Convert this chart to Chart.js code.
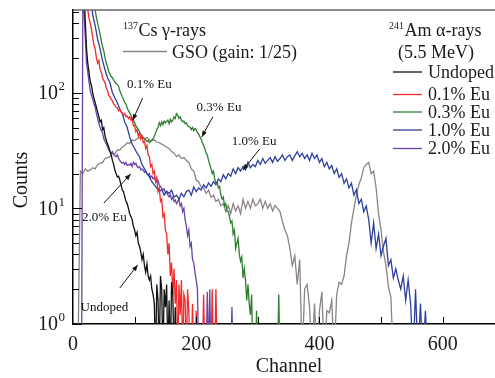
<!DOCTYPE html>
<html>
<head>
<meta charset="utf-8">
<script src="https://cdn.jsdelivr.net/npm/chart.js@4.4.1/dist/chart.umd.min.js"></script>
<style>
  html, body { margin: 0; padding: 0; background: #fff; }
  #wrap { width: 495px; height: 378px; }
</style>
</head>
<body>
<div id="wrap"><canvas id="spectra"></canvas></div>
<script>
// --- fonts / colours ---
const SERIF = "'Liberation Serif', 'Times New Roman', serif";
Chart.defaults.font.family = SERIF;
Chart.defaults.color = '#1a1a1a';

// --- DATA: counts per channel ---
const seriesLabels = ['Undoped', '0.1% Eu', '0.3% Eu', '1.0% Eu', '2.0% Eu'];
const seriesColors = ['#111111', '#f42a2a', '#2f7f2f', '#2e3f9e', '#6a45a8'];
const gsoLabel = 'GSO (gain: 1/25)';
const gsoColor = '#8c8484';

// undoped: channel 18..168, step 2
const undopedStart = 18, undopedStep = 2;
const undopedCounts = [800, 400, 240, 180, 150, 125, 115, 99, 90, 82,
  75, 68, 62, 56, 58, 48, 50, 42, 39, 36,
  34, 31, 29, 26, 24, 21.5, 20, 18.7, 19, 17.6,
  16, 14.4, 14, 12.6, 11.5, 11, 10, 9, 8.5, 8,
  7, 6.5, 5.8, 6.2, 5, 4.7, 4.2, 3.6, 4, 3.2,
  2.8, 3.3, 2.6, 2.4, 2.6, 2, 1.8, 1.5, 0.5, 2.2,
  1.6, 0.5, 2.6, 2, 0.5, 2, 1.4, 2.2, 0.5, 1.6,
  0.5, 2.3, 1.8, 0.5, 1.4, 0.5];

// 0.1% Eu: channel 22..234, step 2
const eu01Start = 22, eu01Step = 2;
const eu01Counts = [800, 520, 440, 400, 356, 300, 260, 240, 200, 180,
  190, 160, 150, 135, 128, 122, 110, 105, 95, 92,
  88, 85, 80, 78, 75, 74, 70, 72, 68, 67,
  64, 66, 62, 63, 60, 62, 58, 60, 52, 52,
  46, 48, 42, 45, 40, 42, 37, 38, 33, 35,
  29, 28, 23, 24, 20, 21, 17, 18.5, 14, 15,
  11.5, 12, 8.5, 9, 6.5, 6, 4, 5, 2.6, 3.4,
  1.8, 3, 1.5, 2.4, 0.5, 2.2, 1.2, 2.4, 0.5, 1.8,
  1.6, 0.5, 2, 1.3, 0.5, 0.5, 1.5, 0.5, 0.5, 1.3,
  0.5, 0.5, 0.5, 0.5, 0.5, 1.8, 0.5, 0.5, 0.5, 0.5,
  0.5, 0.5, 2, 0.5, 0.5, 2, 0.5];

// 0.3% Eu: channel 34..336, step 2
const eu03Start = 34, eu03Step = 2;
const eu03Counts = [800, 520, 450, 400, 360, 320, 280, 250, 230, 200,
  180, 168, 152, 145, 138, 135, 128, 124, 120, 118,
  114, 104, 98, 92, 88, 82, 80, 74, 70, 67,
  64, 60, 58, 55, 52, 50, 48, 46, 44, 42,
  41, 40, 39, 38, 38.5, 37, 38, 39, 40, 42,
  45, 48, 50, 55, 52, 56, 53, 57, 55, 56,
  58, 54, 59, 56, 58, 62, 60, 66, 64, 60,
  62, 58, 56, 57, 54, 55, 52, 51, 50.6, 48,
  50, 47, 49, 48, 45, 44, 41.5, 40, 37, 35,
  33, 30, 29, 26, 24, 22, 20, 21, 18, 16.6,
  17, 15, 15.5, 13, 12, 12.5, 10.5, 11, 9.5, 9.4,
  8.5, 7.5, 7.8, 6, 6.5, 4.5, 5, 5.5, 4, 3.5,
  3.8, 2.5, 3, 2.4, 1.6, 2.2, 1.5, 1.2, 1.8, 0.5,
  0.5, 0.5, 1.3, 0.5, 0.5, 0.5, 0.5, 0.5, 0.5, 0.5,
  0.5, 0.5, 0.5, 0.5, 0.5, 0.5, 0.5, 0.5, 0.5, 0.5,
  1.8, 0.5];

// 1.0% Eu: channel 28..576, step 4
const eu10Start = 28, eu10Step = 4;
const eu10Counts = [800, 470, 380, 290, 240, 190, 158, 135, 122, 100,
  90, 82, 72, 66, 56, 50, 41.5, 36, 33, 30,
  28, 24, 22, 20, 18.7, 17, 16, 15, 14, 14.5,
  13, 14, 13.5, 14.4, 12.5, 13, 12, 13.5, 12.6, 14,
  14.4, 13, 15.3, 14, 15, 14.4, 16, 15, 16.6, 15.5,
  17, 16, 18, 17, 19.5, 18, 20, 19, 22, 20,
  22.5, 21, 23, 21.5, 25, 22.5, 24, 23, 26, 24,
  27, 24.5, 26, 27.5, 25, 28, 25.5, 27, 29, 26,
  28, 29, 26, 28.5, 31, 28, 30, 27, 29, 26,
  30, 27, 29, 25, 27, 23, 25, 22, 23.5, 20,
  22, 18.5, 20, 16.5, 18, 15, 16.5, 13, 14.5, 11,
  12, 9.4, 10.5, 8, 5, 7.5, 4.5, 6, 3.9, 4.7,
  5.5, 3.2, 3.6, 2.5, 3, 2.4, 2, 2.6, 1.6, 2.4,
  1.5, 0.5, 2, 0.5, 1.5, 0.5, 1.3, 0.5];

// 2.0% Eu: channel 14..260, step 2
const eu20Start = 14, eu20Step = 2;
const eu20Counts = [0.5, 800, 500, 300, 180, 150, 125, 105, 95, 88,
  80, 75, 66, 60, 54, 50, 47, 45, 40, 38,
  36, 34, 32, 31, 30, 31, 29, 28.5, 28, 29,
  27, 26, 25, 24.6, 25, 24, 25, 23.5, 24, 23.7,
  24.5, 23, 25, 24, 24.6, 23, 22.5, 23, 21.5, 22,
  21.5, 20.5, 21, 20, 19.5, 20, 18.5, 19, 18, 18.5,
  17.6, 17, 17.5, 16, 15.5, 15, 14.4, 14.8, 13.5, 14,
  13, 12.6, 13.2, 12, 12.5, 11.5, 11.8, 11, 11.5, 12,
  10.5, 11, 9.4, 10, 8, 7, 5.8, 6.5, 4.7, 5,
  3.6, 3.4, 2.8, 2.4, 2, 0.5, 0.5, 0.5, 0.5, 0.5,
  0.5, 0.5, 1.9, 0.5, 2, 0.5, 0.5, 0.5, 0.5, 0.5,
  0.5, 0.5, 0.5, 0.5, 0.5, 0.5, 0.5, 0.5, 0.5, 0.5,
  0.5, 0.5, 1.4, 0.5];

// GSO (gain 1/25): channel 8..520, step 4
const gsoStart = 8, gsoStep = 4;
const gsoCounts = [0.5, 21, 20, 22, 21, 21.5, 22.5, 22, 24, 24.5,
  25, 27, 27.5, 28, 30, 29.5, 32, 32, 34, 35,
  37, 36.5, 39, 38.5, 40, 41, 41.5, 40, 41, 39,
  38.5, 39, 37.5, 37, 36, 35, 34, 33, 31, 30,
  28, 29, 27, 27.5, 26, 25, 22, 21, 17.6, 17,
  15.3, 15, 13.5, 14.4, 12.5, 13, 11.5, 12, 10.5, 11,
  9.4, 10.6, 9, 11, 9.5, 10.5, 9, 12, 10, 11.5,
  10, 12, 10.5, 11, 12, 10, 11.5, 10, 11, 9.5,
  10.6, 10, 9.4, 7.7, 6.5, 5.8, 4.5, 3.2, 3.9, 2.2,
  3.6, 0.5, 2, 2.2, 1.4, 0.5, 1.5, 0.5, 1.3, 1.9,
  0.5, 1.3, 1.25, 1.6, 0.5, 1.8, 2.3, 2.2, 2.6, 3.9,
  5, 7.5, 10, 13, 16, 18.3, 22.5, 24, 25, 20,
  21, 15, 9, 6.5, 4.2, 3.2, 2.1, 1.7, 0.5];

// axes
const xTickValues = [0, 100, 200, 300, 400, 500, 600];
const xTickLabels = ['0', '', '200', '', '400', '', '600'];
const yTickValues = [1, 2, 3, 4, 5, 6, 7, 8, 9, 10, 20, 30, 40, 50, 60, 70, 80, 90, 100, 200, 300, 400, 500];
const yDecades = [1, 10, 100];
const yExponents = ['0', '1', '2'];

// arrowed notes, in data units [channel, counts]
const notes = [
  { text: '0.1% Eu', label: [124, 117], from: [113, 90], to: [97, 58] },
  { text: '0.3% Eu', label: [237, 75], from: [227, 62], to: [209, 41.5] },
  { text: '1.0% Eu', label: [294, 37.5], from: [303, 32.6], to: [276, 21.5] },
  { text: '2.0% Eu', label: [51, 8.3], from: [50, 11.1], to: [93.5, 19.8] },
  { text: 'Undoped', label: [51, 1.4], from: [76, 2.05], to: [105, 3.24] }
];

function spectrum(start, step, counts) {
  return counts.map((c, i) => ({ x: start + i * step, y: c }));
}

function arrow(ctx, x1, y1, x2, y2) {
  ctx.beginPath(); ctx.moveTo(x1, y1); ctx.lineTo(x2, y2); ctx.stroke();
  const a = Math.atan2(y2 - y1, x2 - x1), L = 6, W = 2.4;
  ctx.beginPath();
  ctx.moveTo(x2, y2);
  ctx.lineTo(x2 - L * Math.cos(a) + W * Math.sin(a), y2 - L * Math.sin(a) - W * Math.cos(a));
  ctx.lineTo(x2 - L * Math.cos(a) - W * Math.sin(a), y2 - L * Math.sin(a) + W * Math.cos(a));
  ctx.closePath(); ctx.fill();
}

// frame, inward ticks, labels, legend and notes
const overlay = {
  id: 'overlay',
  afterDraw(chart) {
    const { ctx, chartArea: area, scales: { x, y } } = chart;
    ctx.save();

    // top frame line
    ctx.strokeStyle = '#666'; ctx.lineWidth = 1.5;
    ctx.beginPath(); ctx.moveTo(area.left, area.top); ctx.lineTo(area.right, area.top); ctx.stroke();

    // ticks pointing inward
    ctx.strokeStyle = '#000'; ctx.lineWidth = 1;
    y.ticks.forEach(t => {
      const lg = Math.log10(t.value);
      const major = Math.abs(lg - Math.round(lg)) < 1e-9;
      const py = Math.round(y.getPixelForValue(t.value)) + 0.5;
      ctx.beginPath(); ctx.moveTo(area.left, py); ctx.lineTo(area.left + (major ? 9 : 6), py); ctx.stroke();
    });
    x.ticks.forEach(t => {
      if (t.value === 0) return;
      const px = Math.round(x.getPixelForValue(t.value)) + 0.5;
      ctx.beginPath(); ctx.moveTo(px, area.bottom); ctx.lineTo(px, area.bottom - 7); ctx.stroke();
    });

    ctx.fillStyle = '#1a1a1a';
    ctx.textBaseline = 'middle';

    // y labels 10^n
    yDecades.forEach((v, i) => {
      const py = y.getPixelForValue(v);
      ctx.font = `20px ${SERIF}`; ctx.textAlign = 'right';
      ctx.fillText('10', 58, py + 1);
      ctx.font = `13px ${SERIF}`; ctx.textAlign = 'left';
      ctx.fillText(yExponents[i], 58.5, py - 6);
    });

    // axis titles
    ctx.font = `20px ${SERIF}`; ctx.textAlign = 'center';
    ctx.fillText('Channel', 289, 367);
    ctx.save(); ctx.translate(22, 180); ctx.rotate(-Math.PI / 2);
    ctx.fillText('Counts', 0, 0);
    ctx.restore();

    // source texts
    ctx.textAlign = 'left'; ctx.textBaseline = 'alphabetic';
    ctx.font = `10px ${SERIF}`; ctx.fillText('137', 123, 29);
    ctx.font = `18px ${SERIF}`; ctx.fillText('Cs \u03b3-rays', 138.5, 35.5);
    ctx.font = `10px ${SERIF}`; ctx.fillText('241', 389, 29);
    ctx.font = `18px ${SERIF}`; ctx.fillText('Am \u03b1-rays', 404.5, 35.5);
    ctx.fillText('(5.5 MeV)', 398, 57.5);

    // GSO key
    ctx.strokeStyle = gsoColor; ctx.lineWidth = 1.3;
    ctx.beginPath(); ctx.moveTo(123, 51.5); ctx.lineTo(167, 51.5); ctx.stroke();
    ctx.fillText(gsoLabel, 172, 57.5);

    // legend
    const rows = [72, 94.5, 112, 130, 148.5];
    ctx.textBaseline = 'middle';
    seriesLabels.forEach((lab, i) => {
      ctx.strokeStyle = seriesColors[i]; ctx.lineWidth = 1.3;
      ctx.beginPath(); ctx.moveTo(393, rows[i]); ctx.lineTo(422, rows[i]); ctx.stroke();
      ctx.fillText(lab, 428, rows[i] + 1);
    });

    // arrowed notes
    ctx.font = `13px ${SERIF}`; ctx.textAlign = 'center';
    ctx.strokeStyle = '#111'; ctx.fillStyle = '#111'; ctx.lineWidth = 1;
    notes.forEach(n => {
      ctx.fillText(n.text, x.getPixelForValue(n.label[0]), y.getPixelForValue(n.label[1]));
      arrow(ctx, x.getPixelForValue(n.from[0]), y.getPixelForValue(n.from[1]),
        x.getPixelForValue(n.to[0]), y.getPixelForValue(n.to[1]));
    });

    ctx.restore();
  }
};

const datasets = [
  { label: seriesLabels[0], data: spectrum(undopedStart, undopedStep, undopedCounts), borderColor: seriesColors[0] },
  { label: seriesLabels[1], data: spectrum(eu01Start, eu01Step, eu01Counts), borderColor: seriesColors[1] },
  { label: seriesLabels[2], data: spectrum(eu03Start, eu03Step, eu03Counts), borderColor: seriesColors[2] },
  { label: seriesLabels[3], data: spectrum(eu10Start, eu10Step, eu10Counts), borderColor: seriesColors[3] },
  { label: seriesLabels[4], data: spectrum(eu20Start, eu20Step, eu20Counts), borderColor: seriesColors[4] },
  { label: gsoLabel, data: spectrum(gsoStart, gsoStep, gsoCounts), borderColor: gsoColor }
];

new Chart(document.getElementById('spectra'), {
  type: 'line',
  data: { datasets },
  options: {
    responsive: true,
    maintainAspectRatio: false,
    animation: false,
    layout: { padding: { top: 10, right: 0, left: 0, bottom: 0 } },
    elements: {
      line: { borderWidth: 1.3, tension: 0, fill: false },
      point: { radius: 0, hoverRadius: 0 }
    },
    plugins: { legend: { display: false }, tooltip: { enabled: false } },
    scales: {
      x: {
        type: 'linear', min: 0, max: 685,
        afterBuildTicks: s => { s.ticks = xTickValues.map(v => ({ value: v })); },
        afterFit: s => { s.height = 54; },
        grid: { display: false },
        border: { color: '#000', width: 1.5 },
        ticks: {
          autoSkip: false, maxRotation: 0, padding: 1,
          font: { size: 20, family: SERIF }, color: '#1a1a1a',
          callback: (v, i) => xTickLabels[i]
        }
      },
      y: {
        type: 'logarithmic', min: 1, max: 520,
        afterBuildTicks: s => { s.ticks = yTickValues.map(v => ({ value: v })); },
        afterFit: s => { s.width = 73; },
        grid: { display: false },
        border: { color: '#000', width: 1.5 },
        ticks: { display: false }
      }
    }
  },
  plugins: [overlay]
});
</script>
</body>
</html>
